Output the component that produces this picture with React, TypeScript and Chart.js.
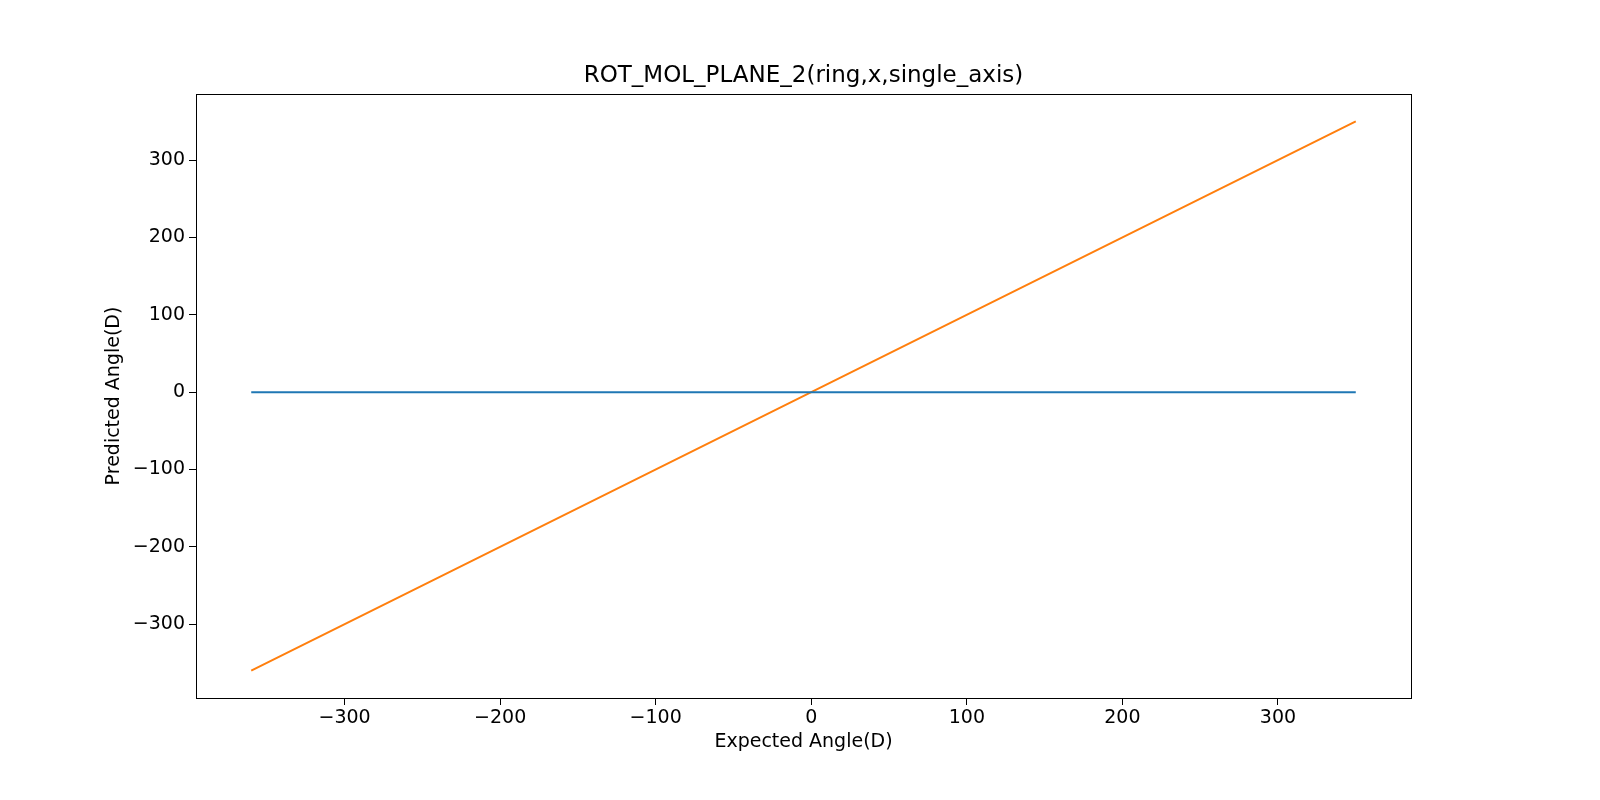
import React, { useEffect, useRef } from "react";
import { Chart, registerables } from "chart.js";
Chart.register(...registerables);

const expectedX = [-360, 0, 350];
const predictedBlue = [0, 0, 0];
const predictedOrange = [-360, 0, 350];
const xTicks = [-300, -200, -100, 0, 100, 200, 300];
const yTicks = [-300, -200, -100, 0, 100, 200, 300];
const titleText = "ROT_MOL_PLANE_2(ring,x,single_axis)";
const xTitle = "Expected Angle(D)";
const yTitle = "Predicted Angle(D)";

export default function App() {
  const ref = useRef<HTMLCanvasElement>(null);
  useEffect(() => {
    document.body.style.margin = "0";
    const font = "'DejaVu Sans', sans-serif";
    const frame = {
      id: "frame",
      afterDraw(c: any) {
        const { ctx, chartArea: a } = c;
        ctx.save();
        ctx.strokeStyle = "#000";
        ctx.lineWidth = 1;
        ctx.strokeRect(a.left + 0.5, a.top + 0.5, a.right - a.left, a.bottom - a.top);
        ctx.fillStyle = "#000";
        ctx.font = `23px ${font}`;
        ctx.textAlign = "center";
        ctx.textBaseline = "bottom";
        ctx.fillText(titleText, (a.left + a.right) / 2, a.top - 6);
        ctx.font = `19px ${font}`;
        ctx.textBaseline = "middle";
        ctx.fillText(xTitle, (a.left + a.right) / 2, 742);
        ctx.translate(114, (a.top + a.bottom) / 2);
        ctx.rotate(-Math.PI / 2);
        ctx.fillText(yTitle, 0, 0);
        ctx.restore();
      },
    };
    const mk = (arr: number[]) => (s: any) => { s.ticks = arr.map((v) => ({ value: v })); };
    const fmt = (v: any) => String(v).replace("-", "\u2212");
    const chart = new Chart(ref.current!, {
      type: "scatter",
      data: {
        datasets: [
          { data: expectedX.map((x, i) => ({ x, y: predictedBlue[i] })), showLine: true, borderColor: "#1f77b4", borderWidth: 2, pointRadius: 0 },
          { data: expectedX.map((x, i) => ({ x, y: predictedOrange[i] })), showLine: true, borderColor: "#ff7f0e", borderWidth: 2, pointRadius: 0 },
        ],
      },
      options: {
        animation: false,
        responsive: false,
        layout: { padding: { top: 94, right: 189, left: 0, bottom: 0 } },
        plugins: { legend: { display: false }, title: { display: false }, tooltip: { enabled: false } },
        scales: {
          x: {
            min: -395.5, max: 385.5,
            afterBuildTicks: mk(xTicks),
            afterFit: (s: any) => { s.height = 102; },
            grid: { drawOnChartArea: false, color: "#000", tickLength: 7 },
            border: { color: "#000" },
            ticks: { color: "#000", font: { size: 19, family: font }, maxRotation: 0, padding: 2, callback: fmt },
          },
          y: {
            min: -395.5, max: 385.5,
            afterBuildTicks: mk(yTicks),
            afterFit: (s: any) => { s.width = 196; },
            grid: { drawOnChartArea: false, color: "#000", tickLength: 7 },
            border: { color: "#000" },
            ticks: { color: "#000", font: { size: 19, family: font }, padding: 4, callback: fmt },
          },
        },
      },
      plugins: [frame],
    });
    return () => chart.destroy();
  }, []);
  return <canvas ref={ref} width={1600} height={800} style={{ display: "block" }} />;
}
